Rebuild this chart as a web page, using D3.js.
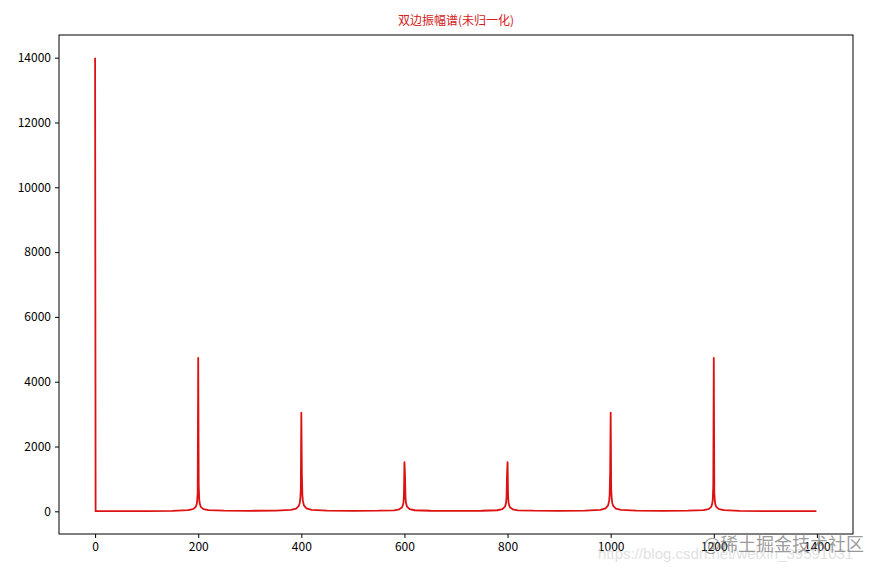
<!DOCTYPE html>
<head>
    <meta charset="utf-8">
    <style>

    body {
      margin: 0;
      background: #fff;
    }

    .axis text {
      font-family: "Noto Sans CJK SC", "DejaVu Sans", sans-serif;
      font-size: 12px;
      fill: #000;
    }

    .axis path, .axis line {
      stroke: #000;
    }

    .title {
      font-family: "Noto Sans CJK SC", sans-serif;
      font-size: 12px;
      fill: #d42020;
    }

    .spectrum {
      fill: none;
      stroke: #dd1111;
      stroke-width: 1.8;
      stroke-linejoin: round;
    }

    </style>
    <script src="https://d3js.org/d3.v7.min.js"></script>
</head>
<body>
    <svg width="879" height="571"></svg>
    <script>

    // FFT bin index (sparse samples)
    var bins = [
      0, 1, 50, 100, 150, 180, 190, 195, 197, 198, 199, 200, 201, 202, 203, 205, 210, 220, 250,
      300, 350, 380, 390, 395, 397, 398, 399, 400, 401, 402, 403, 405, 410, 420, 450,
      500, 550, 580, 590, 595, 597, 598, 599, 600, 601, 602, 603, 605, 610, 620, 650,
      700, 750, 780, 790, 795, 797, 798, 799, 800, 801, 802, 803, 805, 810, 820, 850,
      900, 950, 980, 990, 995, 997, 998, 999, 1000, 1001, 1002, 1003, 1005, 1010, 1020, 1050,
      1100, 1150, 1180, 1190, 1195, 1197, 1198, 1199, 1200, 1201, 1202, 1203, 1205, 1210, 1220, 1250,
      1300, 1399
    ];

    // two-sided amplitude, not normalised
    var amplitude = [
      14000, 4, 5, 8, 16, 34, 67, 132, 215, 316, 592, 4734, 790, 364, 237, 139, 69, 34, 20,
      16, 22, 43, 85, 165, 265, 381, 677, 3046, 1220, 508, 321, 184, 90, 44, 22,
      15, 19, 32, 62, 120, 190, 268, 456, 1520, 1142, 415, 254, 143, 68, 33, 17,
      13, 17, 33, 68, 143, 254, 415, 1142, 1520, 456, 268, 190, 120, 62, 32, 19,
      15, 22, 44, 90, 184, 321, 508, 1220, 3046, 677, 381, 265, 165, 85, 43, 22,
      16, 20, 34, 69, 139, 237, 364, 790, 4734, 592, 316, 215, 132, 67, 34, 16,
      8, 4
    ];

    var xTicks = [0, 200, 400, 600, 800, 1000, 1200, 1400];
    var yTicks = [0, 2000, 4000, 6000, 8000, 10000, 12000, 14000];
    var titleText = "双边振幅谱(未归一化)";

    var svg = d3.select("svg"),
        margin = {top: 35, right: 26, bottom: 37, left: 59},
        width = +svg.attr("width") - margin.left - margin.right,
        height = +svg.attr("height") - margin.top - margin.bottom;

    var x = d3.scaleLinear().domain([-70, 1470]).range([0, width]);
    var y = d3.scaleLinear().domain([-700, 14700]).range([height, 0]);

    var g = svg.append("g")
        .attr("transform", "translate(" + margin.left + "," + margin.top + ")");

    var line = d3.line()
        .x(function(d) { return x(d[0]); })
        .y(function(d) { return y(d[1]); });

    g.append("path")
        .datum(bins.map(function(b, i) { return [b, amplitude[i]]; }))
        .attr("class", "spectrum")
        .attr("d", line);

    g.append("g")
        .attr("class", "axis")
        .attr("transform", "translate(0," + height + ")")
        .call(d3.axisBottom(x).tickValues(xTicks).tickFormat(d3.format("d"))
          .tickSize(4).tickPadding(4).tickSizeOuter(0));

    g.append("g")
        .attr("class", "axis")
        .call(d3.axisLeft(y).tickValues(yTicks).tickFormat(d3.format("d"))
          .tickSize(4).tickPadding(4).tickSizeOuter(0));

    // frame
    g.append("rect")
        .attr("width", width)
        .attr("height", height)
        .attr("fill", "none")
        .attr("stroke", "#000")
        .attr("stroke-width", 1);

    g.selectAll(".axis .domain").remove();

    svg.append("text")
        .attr("class", "title")
        .attr("x", margin.left + width / 2)
        .attr("y", 25)
        .attr("text-anchor", "middle")
        .text(titleText);

    // watermarks of the source image
    svg.append("text")
        .attr("x", 598)
        .attr("y", 559)
        .attr("font-family", "Liberation Sans, sans-serif")
        .attr("font-size", 15)
        .attr("fill", "#e2e2e2")
        .text("https://blog.csdn.net/weixin_39591031");

    svg.append("text")
        .attr("x", 703)
        .attr("y", 551)
        .attr("font-family", "Noto Sans CJK SC, sans-serif")
        .attr("font-size", 18)
        .attr("fill", "rgba(110,110,110,0.7)")
        .text("@稀土掘金技术社区");

    </script>
</body>
